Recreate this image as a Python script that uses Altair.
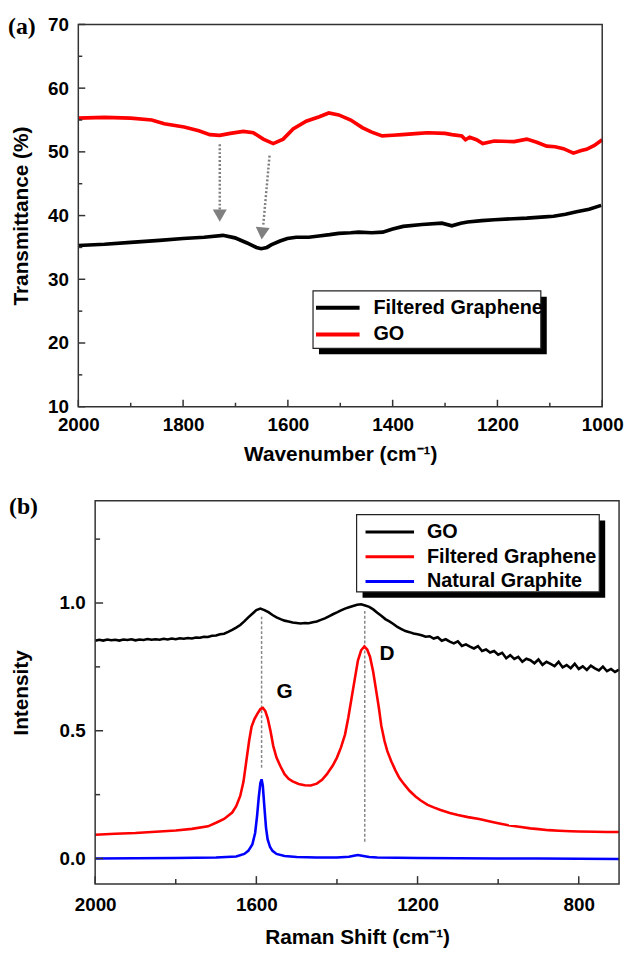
import altair as alt
import pandas as pd

FONT = "Liberation Sans"
SERIF = "Liberation Serif"

# ---------------- (a) FTIR ----------------
ftir_series = ["Filtered Graphene", "GO"]
ftir_colors = ["#000000", "#ff0000"]

ftir_go_x = [2000, 1950, 1900, 1860, 1836, 1798, 1770, 1749, 1730, 1710, 1685, 1666, 1647,
             1628, 1609, 1590, 1565, 1540, 1522, 1503, 1480, 1458, 1440, 1420, 1400, 1382,
             1350, 1333, 1300, 1287, 1268, 1261, 1253, 1240, 1228, 1206, 1168, 1144, 1125,
             1106, 1090, 1074, 1055, 1040, 1030, 1015, 1000]
ftir_go_y = [55.3, 55.4, 55.3, 55.0, 54.4, 53.9, 53.3, 52.7, 52.6, 52.9, 53.2, 53.0, 52.0,
             51.3, 52.0, 53.6, 54.8, 55.5, 56.1, 55.8, 55.0, 53.8, 53.1, 52.5, 52.6, 52.7,
             52.9, 53.0, 52.9, 52.7, 52.5, 51.9, 52.3, 51.9, 51.3, 51.7, 51.6, 52.0, 51.5,
             50.9, 50.8, 50.5, 49.8, 50.2, 50.4, 51.0, 51.9]

ftir_fg_x = [2000, 1950, 1900, 1845, 1800, 1760, 1724, 1701, 1678, 1660, 1651, 1640, 1632,
             1615, 1601, 1584, 1560, 1541, 1520, 1503, 1480, 1465, 1440, 1419, 1400, 1380,
             1344, 1306, 1287, 1270, 1257, 1230, 1206, 1170, 1144, 1110, 1093, 1070, 1049,
             1025, 1002]
ftir_fg_y = [35.3, 35.5, 35.8, 36.1, 36.4, 36.6, 36.9, 36.5, 35.7, 35.0, 34.8, 35.0, 35.4,
             36.0, 36.4, 36.6, 36.6, 36.8, 37.0, 37.2, 37.3, 37.4, 37.3, 37.4, 37.9, 38.3,
             38.6, 38.8, 38.4, 38.8, 39.0, 39.2, 39.35, 39.5, 39.6, 39.8, 39.9, 40.2, 40.6,
             41.0, 41.6]

arrow_x1 = [1730, 1635]
arrow_y1 = [51.2, 49.4]
arrow_x2 = [1730, 1647]
arrow_y2 = [40.8, 38.5]
head_x = [1730, 1649]
head_y = [40.0, 37.2]
head_angle = [0, 5]

a_x_major = [2000, 1800, 1600, 1400, 1200, 1000]
a_x_minor = [1900, 1700, 1500, 1300, 1100]
a_y_major = [10, 20, 30, 40, 50, 60, 70]
a_y_minor = [15, 25, 35, 45, 55, 65]

# ---------------- (b) Raman ----------------
raman_series = ["GO", "Filtered Graphene", "Natural Graphite"]
raman_colors = ["#000000", "#ff0000", "#0000ff"]

raman_go_x = list(range(2000, 690, -10))
raman_go_y = [0.852, 0.856, 0.853, 0.857, 0.854, 0.856, 0.853, 0.857, 0.855, 0.858,
              0.854, 0.857, 0.855, 0.859, 0.856, 0.858, 0.856, 0.860, 0.857, 0.861,
              0.858, 0.862, 0.860, 0.863, 0.861, 0.865, 0.864, 0.868, 0.867, 0.872,
              0.873, 0.878, 0.880, 0.887, 0.895, 0.904, 0.914, 0.928, 0.944, 0.958,
              0.972, 0.978, 0.972, 0.964, 0.953, 0.944, 0.937, 0.931, 0.928, 0.924,
              0.922, 0.920, 0.922, 0.921, 0.925, 0.928, 0.934, 0.940, 0.948, 0.956,
              0.963, 0.971, 0.978, 0.983, 0.988, 0.993, 0.995, 0.990, 0.985, 0.975,
              0.962, 0.950, 0.937, 0.928, 0.918, 0.906, 0.898, 0.890, 0.886, 0.881,
              0.878, 0.874, 0.868, 0.870, 0.861, 0.866, 0.852, 0.858, 0.849, 0.842,
              0.850, 0.832, 0.838, 0.829, 0.822, 0.831, 0.812, 0.818, 0.806, 0.812,
              0.798, 0.805, 0.784, 0.796, 0.781, 0.789, 0.770, 0.782, 0.776, 0.764,
              0.779, 0.758, 0.770, 0.762, 0.753, 0.770, 0.748, 0.757, 0.745, 0.762,
              0.742, 0.752, 0.738, 0.755, 0.744, 0.736, 0.751, 0.733, 0.742, 0.730,
              0.739]

raman_fg_x = [2000, 1950, 1900, 1850, 1800, 1760, 1720, 1700, 1680, 1660, 1650, 1640, 1632,
              1625, 1618, 1612, 1605, 1598, 1590, 1584, 1578, 1572, 1565, 1558, 1550, 1540,
              1530, 1520, 1510, 1495, 1480, 1465, 1450, 1437, 1425, 1410, 1400, 1390, 1380,
              1372, 1364, 1356, 1348, 1340, 1332, 1325, 1318, 1310, 1303, 1296, 1290, 1282,
              1275, 1265, 1255, 1245, 1233, 1220, 1205, 1192, 1175, 1160, 1143, 1120, 1100,
              1075, 1047, 1020, 1000, 975, 948, 920, 900, 875, 849, 820, 800, 760, 730, 700]
raman_fg_y = [0.093, 0.097, 0.100, 0.105, 0.110, 0.116, 0.126, 0.140, 0.155, 0.180, 0.205,
              0.245, 0.300, 0.380, 0.460, 0.515, 0.545, 0.565, 0.585, 0.590, 0.578, 0.550,
              0.500, 0.440, 0.395, 0.360, 0.330, 0.312, 0.302, 0.292, 0.287, 0.286, 0.293,
              0.308, 0.330, 0.365, 0.395, 0.435, 0.485, 0.550, 0.625, 0.700, 0.775, 0.815,
              0.830, 0.818, 0.790, 0.730, 0.660, 0.590, 0.520, 0.460, 0.420, 0.380, 0.345,
              0.315, 0.290, 0.265, 0.243, 0.227, 0.210, 0.200, 0.190, 0.178, 0.170, 0.162,
              0.155, 0.145, 0.138, 0.130, 0.124, 0.118, 0.115, 0.111, 0.109, 0.107, 0.106,
              0.105, 0.104, 0.104]

raman_ng_x = [2000, 1900, 1800, 1700, 1650, 1630, 1620, 1610, 1603, 1598, 1594, 1590, 1587,
              1584, 1580, 1576, 1572, 1566, 1560, 1550, 1530, 1500, 1450, 1400, 1370, 1358,
              1348, 1338, 1320, 1300, 1250, 1200, 1100, 1000, 900, 800, 700]
raman_ng_y = [0.000, 0.001, 0.002, 0.004, 0.008, 0.018, 0.030, 0.055, 0.100, 0.170, 0.240,
              0.295, 0.310, 0.285, 0.200, 0.120, 0.075, 0.045, 0.030, 0.018, 0.010, 0.006,
              0.004, 0.004, 0.007, 0.011, 0.014, 0.011, 0.006, 0.004, 0.003, 0.002, 0.001,
              0.000, 0.000, -0.001, -0.002]

peak_names = ["G", "D"]
peak_x = [1587, 1331]
peak_y1 = [0.355, 0.066]
peak_y2 = [0.946, 0.973]
peak_label_x = [1530, 1276]
peak_label_y = [0.650, 0.800]

b_x_major = [2000, 1600, 1200, 800]
b_x_minor = [1800, 1400, 1000]
b_y_major = [0.0, 0.5, 1.0]
b_y_minor = [0.25, 0.75, 1.25]

panel_labels = ["(a)", "(b)"]


def long_df(parts):
    rows = []
    for name, xs, ys in parts:
        for xv, yv in zip(xs, ys):
            rows.append({"series": name, "x": xv, "y": yv})
    return pd.DataFrame(rows)


FRAME = "#333333"
ONE = pd.DataFrame({"k": [0]})


def xticks(values, xs, ax, y0, length):
    return alt.Chart(pd.DataFrame({"v": values})).mark_rule(color=FRAME, strokeWidth=1.5).encode(
        x=alt.X("v:Q", scale=xs, axis=ax), y=alt.value(y0), y2=alt.value(y0 - length))


def yticks(values, ys, ax, x0, length):
    return alt.Chart(pd.DataFrame({"v": values})).mark_rule(color=FRAME, strokeWidth=1.5).encode(
        y=alt.Y("v:Q", scale=ys, axis=ax), x=alt.value(x0), x2=alt.value(x0 + length))


def frame(x0, x1, h):
    return alt.Chart(ONE).mark_rect(fillOpacity=0, stroke=FRAME, strokeWidth=1.5).encode(
        x=alt.value(x0), x2=alt.value(x1), y=alt.value(0), y2=alt.value(h))


def box(x0, y0, x1, y1, shadow):
    shadow_c = alt.Chart(ONE).mark_rect(fill="black").encode(
        x=alt.value(x0 + shadow), x2=alt.value(x1 + shadow),
        y=alt.value(y0 + shadow), y2=alt.value(y1 + shadow))
    box_c = alt.Chart(ONE).mark_rect(fill="white", stroke="#222222", strokeWidth=1.2).encode(
        x=alt.value(x0), x2=alt.value(x1), y=alt.value(y0), y2=alt.value(y1))
    return [shadow_c, box_c]


# ======================= panel (a) =======================
WA, HA = 529, 386
SHIFT = 17  # panel (a) sits 17 px left of panel (b)
xs_a = alt.Scale(domain=[1000, 2000], range=[WA - SHIFT, -SHIFT], nice=False, zero=False)
ys_a = alt.Scale(domain=[10, 70], nice=False, zero=False)
ax_ax = alt.Axis(values=a_x_major, format="d", title="Wavenumber (cm⁻¹)",
                 labelPadding=9, titlePadding=9, labelFlush=False)
ax_ay = alt.Axis(values=a_y_major, format="d", title="Transmittance (%)",
                 labelPadding=10, titlePadding=16, offset=SHIFT, labelFlush=False)

df_a = long_df([("Filtered Graphene", ftir_fg_x, ftir_fg_y), ("GO", ftir_go_x, ftir_go_y)])

lines_a = alt.Chart(df_a).mark_line(strokeWidth=3.7).encode(
    x=alt.X("x:Q", scale=xs_a, axis=ax_ax),
    y=alt.Y("y:Q", scale=ys_a, axis=ax_ay),
    color=alt.Color("series:N", scale=alt.Scale(domain=ftir_series, range=ftir_colors),
                    legend=alt.Legend(title=None, orient="none", legendX=233, legendY=274,
                                      symbolType="M-2.2,0L2.2,0", symbolStrokeWidth=4,
                                      symbolSize=400, labelFont=FONT, labelFontSize=20,
                                      labelFontWeight="bold", labelColor="black",
                                      labelOffset=24, labelLimit=400, rowPadding=5,
                                      padding=0, zindex=2)),
)

arrow_df = pd.DataFrame({"x1": arrow_x1, "y1": arrow_y1, "x2": arrow_x2, "y2": arrow_y2})
arrows_a = alt.Chart(arrow_df).mark_rule(color="#808080", strokeWidth=2.5,
                                         strokeDash=[2, 2]).encode(
    x=alt.X("x1:Q", scale=xs_a, axis=ax_ax), x2="x2:Q",
    y=alt.Y("y1:Q", scale=ys_a, axis=ax_ay), y2="y2:Q")
heads_df = pd.DataFrame({"x": head_x, "y": head_y, "ang": head_angle})
heads_a = alt.Chart(heads_df).mark_point(shape="triangle-down", filled=True, size=200,
                                         color="#808080", opacity=1).encode(
    x=alt.X("x:Q", scale=xs_a, axis=ax_ax), y=alt.Y("y:Q", scale=ys_a, axis=ax_ay),
    angle=alt.Angle("ang:Q", scale=None))

label_a = alt.Chart(pd.DataFrame({"t": [panel_labels[0]]})).mark_text(
    font=SERIF, fontSize=24, fontWeight="bold", align="left", baseline="middle",
    color="black").encode(x=alt.value(-88), y=alt.value(3), text="t:N")

panel_a = alt.layer(
    *box(220, 269, 450, 327, 6), lines_a, arrows_a, heads_a,
    xticks(a_x_major, xs_a, ax_ax, HA, 7), xticks(a_x_minor, xs_a, ax_ax, HA, 4),
    yticks(a_y_major, ys_a, ax_ay, -SHIFT, 7), yticks(a_y_minor, ys_a, ax_ay, -SHIFT, 4),
    frame(-SHIFT, WA - SHIFT, HA), label_a,
).properties(width=WA, height=HA)

# ======================= panel (b) =======================
WB, HB = 529, 387
xs_b = alt.Scale(domain=[700, 2000], reverse=True, nice=False, zero=False)
ys_b = alt.Scale(domain=[-0.1, 1.4], nice=False, zero=False)
ax_bx = alt.Axis(values=b_x_major, format="d", title="Raman Shift (cm⁻¹)",
                 labelPadding=12, titlePadding=12, labelFlush=False)
ax_by = alt.Axis(values=b_y_major, format=".1f", title="Intensity",
                 labelPadding=10, titlePadding=28, labelFlush=False)

df_b = long_df([("GO", raman_go_x, raman_go_y),
                ("Filtered Graphene", raman_fg_x, raman_fg_y),
                ("Natural Graphite", raman_ng_x, raman_ng_y)])

lines_b = alt.Chart(df_b).mark_line(strokeWidth=2.6).encode(
    x=alt.X("x:Q", scale=xs_b, axis=ax_bx),
    y=alt.Y("y:Q", scale=ys_b, axis=ax_by),
    color=alt.Color("series:N", scale=alt.Scale(domain=raman_series, range=raman_colors),
                    legend=alt.Legend(title=None, orient="none", legendX=286, legendY=20,
                                      symbolType="M-2.45,0L2.45,0", symbolStrokeWidth=3,
                                      symbolSize=400, labelFont=FONT, labelFontSize=20,
                                      labelFontWeight="bold", labelColor="black",
                                      labelOffset=26, labelLimit=400, rowPadding=3,
                                      padding=0, zindex=2)),
)

peak_df = pd.DataFrame({"x": peak_x, "y1": peak_y1, "y2": peak_y2,
                        "lx": peak_label_x, "ly": peak_label_y, "name": peak_names})
peak_lines = alt.Chart(peak_df).mark_rule(color="#888888", strokeWidth=1.5,
                                          strokeDash=[3, 2]).encode(
    x=alt.X("x:Q", scale=xs_b, axis=ax_bx),
    y=alt.Y("y1:Q", scale=ys_b, axis=ax_by), y2="y2:Q")
peak_text = alt.Chart(peak_df).mark_text(font=FONT, fontSize=21, fontWeight="bold",
                                         color="black").encode(
    x=alt.X("lx:Q", scale=xs_b, axis=ax_bx), y=alt.Y("ly:Q", scale=ys_b, axis=ax_by),
    text="name:N")

label_b = alt.Chart(pd.DataFrame({"t": [panel_labels[1]]})).mark_text(
    font=SERIF, fontSize=24, fontWeight="bold", align="left", baseline="middle",
    color="black").encode(x=alt.value(-87), y=alt.value(6), text="t:N")

panel_b = alt.layer(
    *box(264, 14, 509, 92, 6), peak_lines, lines_b, peak_text,
    xticks(b_x_major, xs_b, ax_bx, HB, 8), xticks(b_x_minor, xs_b, ax_bx, HB, 5),
    yticks(b_y_major, ys_b, ax_by, 0, 8), yticks(b_y_minor, ys_b, ax_by, 0, 5),
    frame(0, WB, HB), label_b,
).properties(width=WB, height=HB)

chart = alt.vconcat(panel_a, panel_b, spacing=31).resolve_scale(
    color="independent", x="independent", y="independent"
).configure(
    padding={"left": 0, "top": 3, "right": 0, "bottom": 0},
    background="white",
).configure_view(
    strokeWidth=0
).configure_axis(
    grid=False, domain=False, ticks=False, tickSize=0, labelFlush=False,
    labelFont=FONT, labelFontSize=19, labelFontWeight="bold", labelColor="black",
    titleFont=FONT, titleFontSize=21, titleFontWeight="bold", titleColor="black",
)

chart.save("out.html", embed_options={"renderer": "svg", "actions": False})
